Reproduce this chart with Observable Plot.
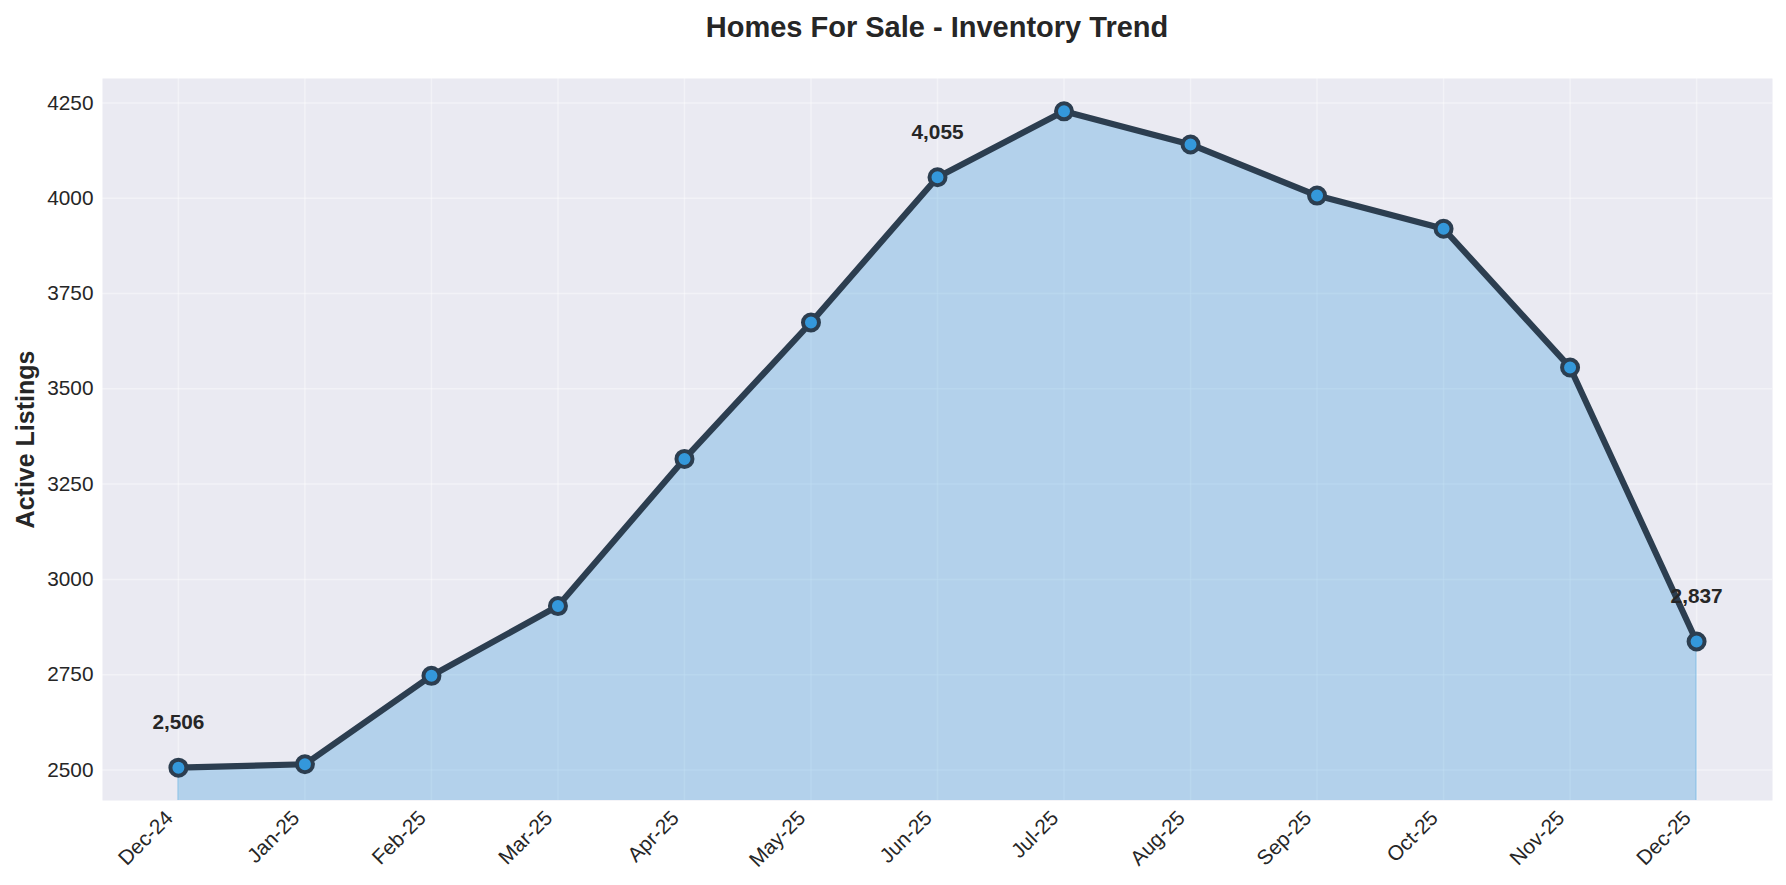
<!DOCTYPE html>
<html>
<head>
<meta charset="utf-8">
<script src="https://cdn.jsdelivr.net/npm/d3@7"></script>
<script src="https://cdn.jsdelivr.net/npm/@observablehq/plot@0.6"></script>
<style>
  html, body { margin: 0; padding: 0; background: #ffffff; }
  body { width: 1786px; height: 885px; position: relative; overflow: hidden; font-family: "Liberation Sans", Arial, sans-serif; }
  #title { position: absolute; z-index: 2; left: 102px; width: 1670px; top: 10px; line-height: 34px; text-align: center;
           font-size: 29px; font-weight: bold; color: #262626; }
  #chart { position: absolute; z-index: 1; left: 0; top: 0; }
</style>
</head>
<body>
<div id="chart"></div>
<div id="title">Homes For Sale - Inventory Trend</div>
<script>
const months = ["Dec-24","Jan-25","Feb-25","Mar-25","Apr-25","May-25","Jun-25","Jul-25","Aug-25","Sep-25","Oct-25","Nov-25","Dec-25"];
const listings = [2506, 2515, 2747, 2930, 3316, 3674, 4055, 4228, 4141, 4007, 3920, 3556, 2837];
const labeledMonths = ["Dec-24", "Jun-25", "Dec-25"];
const yTicks = [2500, 2750, 3000, 3250, 3500, 3750, 4000, 4250];
const yLabel = "Active Listings";

const data = months.map((m, i) => ({month: m, value: listings[i]}));
const labeled = data.filter(d => labeledMonths.includes(d.month));

const lo = d3.min(listings), hi = d3.max(listings), pad = (hi - lo) * 0.05;

const font = "'Liberation Sans', Arial, sans-serif";

const plot = Plot.plot({
  width: 1786,
  height: 885,
  marginLeft: 102,
  marginRight: 14,
  marginTop: 78,
  marginBottom: 85,
  style: {fontFamily: font, background: "transparent", color: "#262626"},
  x: {type: "point", domain: months, padding: 0.6, round: false},
  y: {domain: [lo - pad, hi + pad]},
  marks: [
    Plot.frame({fill: "#EAEAF2", stroke: null}),
    Plot.gridX(months, {stroke: "#ffffff", strokeOpacity: 0.4, strokeWidth: 1.5}),
    Plot.gridY(yTicks, {stroke: "#ffffff", strokeOpacity: 0.4, strokeWidth: 1.5}),
    Plot.areaY(data, {x: "month", y1: 0, y2: "value", fill: "#3498db", fillOpacity: 0.3,
                      stroke: "#3498db", strokeOpacity: 0.3, strokeWidth: 1.5, clip: true}),
    Plot.line(data, {x: "month", y: "value", stroke: "#2c3e50", strokeWidth: 6.2, strokeLinejoin: "round"}),
    Plot.dot(data, {x: "month", y: "value", r: 8, fill: "#3498db", stroke: "#2c3e50", strokeWidth: 4}),
    Plot.text(labeled, {x: "month", y: "value", text: d => d3.format(",")(d.value), dy: -45,
                        fontSize: 20.8, fontWeight: "bold", fill: "#262626", lineAnchor: "middle"}),
    Plot.axisY(yTicks, {tickSize: 0, tickPadding: 9, fontSize: 20.8, label: null, fill: "#262626", tickFormat: d3.format("d")}),
    Plot.axisX(months, {tickSize: 0, tickPadding: 14, tickRotate: -45, fontSize: 20.8, label: null, fill: "#262626", dx: -9}),
    Plot.text([yLabel], {frameAnchor: "left", dx: -77, rotate: -90, text: d => d, fontSize: 25,
                         fontWeight: "bold", fill: "#262626", lineAnchor: "middle", textAnchor: "middle"})
  ]
});
document.getElementById("chart").appendChild(plot);
</script>
</body>
</html>
